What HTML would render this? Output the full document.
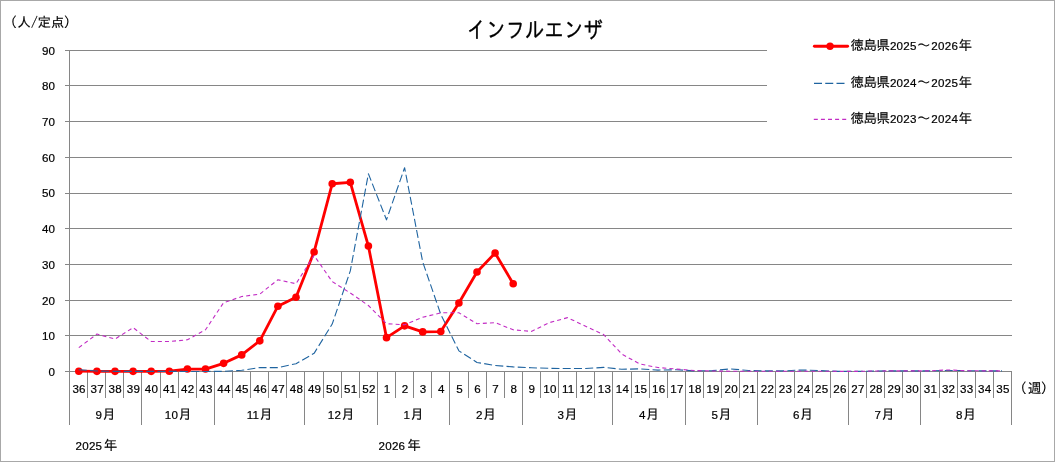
<!DOCTYPE html>
<html lang="ja"><head><meta charset="utf-8"><title>インフルエンザ</title>
<style>html,body{margin:0;padding:0;background:#fff}body{width:1055px;height:466px;overflow:hidden}svg{display:block}text{fill:#000}.n{font-family:"Liberation Sans","IPAGothic","Noto Sans CJK JP",sans-serif;font-size:11.6px;letter-spacing:.25px;stroke:#000;stroke-width:.2px}.j{font-family:"IPAGothic","Noto Sans CJK JP",sans-serif;font-size:13.5px;letter-spacing:0;stroke:#000;stroke-width:.15px}.t{font-family:"IPAGothic","Noto Sans CJK JP",sans-serif;font-size:23px;stroke:#000;stroke-width:.3px}</style></head><body>
<svg width="1055" height="466" viewBox="0 0 1055 466">
<rect x="0" y="0" width="1055" height="466" fill="#fff"/>
<rect x="0.5" y="0.5" width="1054" height="461" fill="#fff" stroke="#a8a8a8" stroke-width="1"/>
<g stroke="#868686" stroke-width="1" shape-rendering="crispEdges">
<line x1="65" y1="371.5" x2="1012" y2="371.5"/>
<line x1="65" y1="335.5" x2="1012" y2="335.5"/>
<line x1="65" y1="300.5" x2="1012" y2="300.5"/>
<line x1="65" y1="264.5" x2="1012" y2="264.5"/>
<line x1="65" y1="228.5" x2="1012" y2="228.5"/>
<line x1="65" y1="193.5" x2="1012" y2="193.5"/>
<line x1="65" y1="157.5" x2="1012" y2="157.5"/>
<line x1="65" y1="121.5" x2="767" y2="121.5"/>
<line x1="65" y1="85.5" x2="767" y2="85.5"/>
<line x1="65" y1="50.5" x2="767" y2="50.5"/>
<line x1="69.5" y1="50" x2="69.5" y2="425"/>
<line x1="87.5" y1="372" x2="87.5" y2="398"/>
<line x1="105.5" y1="372" x2="105.5" y2="398"/>
<line x1="123.5" y1="372" x2="123.5" y2="398"/>
<line x1="141.5" y1="372" x2="141.5" y2="425"/>
<line x1="160.5" y1="372" x2="160.5" y2="398"/>
<line x1="178.5" y1="372" x2="178.5" y2="398"/>
<line x1="196.5" y1="372" x2="196.5" y2="398"/>
<line x1="214.5" y1="372" x2="214.5" y2="425"/>
<line x1="232.5" y1="372" x2="232.5" y2="398"/>
<line x1="250.5" y1="372" x2="250.5" y2="398"/>
<line x1="268.5" y1="372" x2="268.5" y2="398"/>
<line x1="286.5" y1="372" x2="286.5" y2="398"/>
<line x1="304.5" y1="372" x2="304.5" y2="425"/>
<line x1="323.5" y1="372" x2="323.5" y2="398"/>
<line x1="341.5" y1="372" x2="341.5" y2="398"/>
<line x1="359.5" y1="372" x2="359.5" y2="398"/>
<line x1="377.5" y1="372" x2="377.5" y2="425"/>
<line x1="395.5" y1="372" x2="395.5" y2="398"/>
<line x1="413.5" y1="372" x2="413.5" y2="398"/>
<line x1="431.5" y1="372" x2="431.5" y2="398"/>
<line x1="449.5" y1="372" x2="449.5" y2="425"/>
<line x1="468.5" y1="372" x2="468.5" y2="398"/>
<line x1="486.5" y1="372" x2="486.5" y2="398"/>
<line x1="504.5" y1="372" x2="504.5" y2="398"/>
<line x1="522.5" y1="372" x2="522.5" y2="425"/>
<line x1="540.5" y1="372" x2="540.5" y2="398"/>
<line x1="558.5" y1="372" x2="558.5" y2="398"/>
<line x1="576.5" y1="372" x2="576.5" y2="398"/>
<line x1="594.5" y1="372" x2="594.5" y2="398"/>
<line x1="612.5" y1="372" x2="612.5" y2="425"/>
<line x1="631.5" y1="372" x2="631.5" y2="398"/>
<line x1="649.5" y1="372" x2="649.5" y2="398"/>
<line x1="667.5" y1="372" x2="667.5" y2="398"/>
<line x1="685.5" y1="372" x2="685.5" y2="425"/>
<line x1="703.5" y1="372" x2="703.5" y2="398"/>
<line x1="721.5" y1="372" x2="721.5" y2="398"/>
<line x1="739.5" y1="372" x2="739.5" y2="398"/>
<line x1="757.5" y1="372" x2="757.5" y2="425"/>
<line x1="775.5" y1="372" x2="775.5" y2="398"/>
<line x1="794.5" y1="372" x2="794.5" y2="398"/>
<line x1="812.5" y1="372" x2="812.5" y2="398"/>
<line x1="830.5" y1="372" x2="830.5" y2="398"/>
<line x1="848.5" y1="372" x2="848.5" y2="425"/>
<line x1="866.5" y1="372" x2="866.5" y2="398"/>
<line x1="884.5" y1="372" x2="884.5" y2="398"/>
<line x1="902.5" y1="372" x2="902.5" y2="398"/>
<line x1="920.5" y1="372" x2="920.5" y2="425"/>
<line x1="939.5" y1="372" x2="939.5" y2="398"/>
<line x1="957.5" y1="372" x2="957.5" y2="398"/>
<line x1="975.5" y1="372" x2="975.5" y2="398"/>
<line x1="993.5" y1="372" x2="993.5" y2="398"/>
<line x1="1011.5" y1="372" x2="1011.5" y2="425"/>
</g>
<g class="n" text-anchor="end">
<text x="55.3" y="375.9">0</text>
<text x="55.3" y="340.2">10</text>
<text x="55.3" y="304.5">20</text>
<text x="55.3" y="268.8">30</text>
<text x="55.3" y="233.1">40</text>
<text x="55.3" y="197.4">50</text>
<text x="55.3" y="161.7">60</text>
<text x="55.3" y="126.0">70</text>
<text x="55.3" y="90.3">80</text>
<text x="55.3" y="54.5">90</text>
</g>
<g class="n" text-anchor="middle">
<text x="79.1" y="393">36</text>
<text x="97.2" y="393">37</text>
<text x="115.3" y="393">38</text>
<text x="133.4" y="393">39</text>
<text x="151.5" y="393">40</text>
<text x="169.6" y="393">41</text>
<text x="187.7" y="393">42</text>
<text x="205.9" y="393">43</text>
<text x="224.0" y="393">44</text>
<text x="242.1" y="393">45</text>
<text x="260.2" y="393">46</text>
<text x="278.3" y="393">47</text>
<text x="296.4" y="393">48</text>
<text x="314.6" y="393">49</text>
<text x="332.7" y="393">50</text>
<text x="350.8" y="393">51</text>
<text x="368.9" y="393">52</text>
<text x="387.0" y="393">1</text>
<text x="405.1" y="393">2</text>
<text x="423.2" y="393">3</text>
<text x="441.4" y="393">4</text>
<text x="459.5" y="393">5</text>
<text x="477.6" y="393">6</text>
<text x="495.7" y="393">7</text>
<text x="513.8" y="393">8</text>
<text x="531.9" y="393">9</text>
<text x="550.0" y="393">10</text>
<text x="568.2" y="393">11</text>
<text x="586.3" y="393">12</text>
<text x="604.4" y="393">13</text>
<text x="622.5" y="393">14</text>
<text x="640.6" y="393">15</text>
<text x="658.7" y="393">16</text>
<text x="676.9" y="393">17</text>
<text x="695.0" y="393">18</text>
<text x="713.1" y="393">19</text>
<text x="731.2" y="393">20</text>
<text x="749.3" y="393">21</text>
<text x="767.4" y="393">22</text>
<text x="785.5" y="393">23</text>
<text x="803.7" y="393">24</text>
<text x="821.8" y="393">25</text>
<text x="839.9" y="393">26</text>
<text x="858.0" y="393">27</text>
<text x="876.1" y="393">28</text>
<text x="894.2" y="393">29</text>
<text x="912.3" y="393">30</text>
<text x="930.5" y="393">31</text>
<text x="948.6" y="393">32</text>
<text x="966.7" y="393">33</text>
<text x="984.8" y="393">34</text>
<text x="1002.9" y="393">35</text>
</g>
<g class="n" text-anchor="middle">
<text x="105.7" y="419"><tspan>9</tspan><tspan class="j">月</tspan></text>
<text x="178.2" y="419"><tspan>10</tspan><tspan class="j">月</tspan></text>
<text x="259.7" y="419"><tspan>11</tspan><tspan class="j">月</tspan></text>
<text x="341.2" y="419"><tspan>12</tspan><tspan class="j">月</tspan></text>
<text x="413.7" y="419"><tspan>1</tspan><tspan class="j">月</tspan></text>
<text x="486.1" y="419"><tspan>2</tspan><tspan class="j">月</tspan></text>
<text x="567.7" y="419"><tspan>3</tspan><tspan class="j">月</tspan></text>
<text x="649.2" y="419"><tspan>4</tspan><tspan class="j">月</tspan></text>
<text x="721.6" y="419"><tspan>5</tspan><tspan class="j">月</tspan></text>
<text x="803.2" y="419"><tspan>6</tspan><tspan class="j">月</tspan></text>
<text x="884.7" y="419"><tspan>7</tspan><tspan class="j">月</tspan></text>
<text x="966.2" y="419"><tspan>8</tspan><tspan class="j">月</tspan></text>
</g>
<text class="n" x="75.5" y="449.6">2025<tspan class="j" x="103.7">年</tspan></text>
<text class="n" x="378.5" y="449.6">2026<tspan class="j" x="407.2">年</tspan></text>
<text class="j" x="3.5 17.3 31 37.5 50.7 63.7" y="26.5">（人/定点）</text>
<text class="j" x="1013.3 1027.7 1040.7" y="392.7">（週）</text>
<text x="466.8" y="38" class="t" textLength="136" lengthAdjust="spacingAndGlyphs">インフルエンザ</text>
<polyline points="78.80,371.19 96.90,371.37 115.00,371.37 133.10,371.37 151.20,371.37 169.30,371.19 187.40,369.05 205.50,369.05 223.60,363.34 241.70,354.88 259.80,340.85 277.90,306.22 296.00,297.29 314.10,251.96 332.20,183.77 350.30,182.34 368.40,246.06 386.50,337.63 404.60,325.85 422.70,331.92 440.80,331.57 458.90,303.01 477.00,271.95 495.10,253.03 513.20,283.73" fill="none" stroke="#ff0000" stroke-width="2.8" stroke-linejoin="round" stroke-linecap="round"/>
<g fill="#ff0000">
<circle cx="78.80" cy="371.19" r="3.8"/>
<circle cx="96.90" cy="371.37" r="3.8"/>
<circle cx="115.00" cy="371.37" r="3.8"/>
<circle cx="133.10" cy="371.37" r="3.8"/>
<circle cx="151.20" cy="371.37" r="3.8"/>
<circle cx="169.30" cy="371.19" r="3.8"/>
<circle cx="187.40" cy="369.05" r="3.8"/>
<circle cx="205.50" cy="369.05" r="3.8"/>
<circle cx="223.60" cy="363.34" r="3.8"/>
<circle cx="241.70" cy="354.88" r="3.8"/>
<circle cx="259.80" cy="340.85" r="3.8"/>
<circle cx="277.90" cy="306.22" r="3.8"/>
<circle cx="296.00" cy="297.29" r="3.8"/>
<circle cx="314.10" cy="251.96" r="3.8"/>
<circle cx="332.20" cy="183.77" r="3.8"/>
<circle cx="350.30" cy="182.34" r="3.8"/>
<circle cx="368.40" cy="246.06" r="3.8"/>
<circle cx="386.50" cy="337.63" r="3.8"/>
<circle cx="404.60" cy="325.85" r="3.8"/>
<circle cx="422.70" cy="331.92" r="3.8"/>
<circle cx="440.80" cy="331.57" r="3.8"/>
<circle cx="458.90" cy="303.01" r="3.8"/>
<circle cx="477.00" cy="271.95" r="3.8"/>
<circle cx="495.10" cy="253.03" r="3.8"/>
<circle cx="513.20" cy="283.73" r="3.8"/>
</g>
<polyline points="78.80,369.76 96.90,371.01 115.00,371.37 133.10,371.37 151.20,371.37 169.30,371.37 187.40,371.44 205.50,371.44 223.60,371.37 241.70,370.30 259.80,367.62 277.90,367.62 296.00,363.70 314.10,353.34 332.20,324.07 350.30,270.88 368.40,173.77 386.50,219.83 404.60,167.70 422.70,261.95 440.80,314.43 458.90,350.84 477.00,362.45 495.10,365.48 513.20,366.91 531.30,367.77 549.40,368.34 567.50,368.52 585.60,368.52 603.70,367.37 621.80,369.27 639.90,368.87 658.00,370.12 676.10,369.76 694.20,370.84 712.30,370.66 730.40,368.87 748.50,370.48 766.60,370.84 784.70,370.84 802.80,369.94 820.90,370.66 839.00,371.37 857.10,371.37 875.20,371.01 893.30,370.84 911.40,370.84 929.50,370.84 947.60,370.48 965.70,370.66 983.80,370.84 1001.90,370.84" fill="none" stroke="#1f64a0" stroke-width="1.1" stroke-dasharray="8 3.25" stroke-linejoin="round"/>
<polyline points="78.80,347.63 96.90,334.06 115.00,339.06 133.10,327.64 151.20,341.56 169.30,341.56 187.40,339.78 205.50,329.78 223.60,302.65 241.70,296.58 259.80,294.08 277.90,279.80 296.00,283.73 314.10,255.53 332.20,281.59 350.30,293.01 368.40,305.50 386.50,323.71 404.60,324.78 422.70,317.29 440.80,312.82 458.90,312.82 477.00,323.71 495.10,322.64 513.20,329.78 531.30,331.39 549.40,322.64 567.50,317.64 585.60,326.21 603.70,334.60 621.80,354.06 639.90,364.05 658.00,367.52 676.10,369.05 694.20,370.48 712.30,371.01 730.40,371.19 748.50,371.19 766.60,371.19 784.70,371.19 802.80,371.19 820.90,371.19 839.00,371.37 857.10,371.37 875.20,371.01 893.30,370.84 911.40,370.84 929.50,370.84 947.60,369.94 965.70,370.66 983.80,370.84 1001.90,370.84" fill="none" stroke="#c22cc4" stroke-width="1.1" stroke-dasharray="4 3.1" stroke-linejoin="round"/>
<line x1="814.4" y1="46.25" x2="847.6" y2="46.25" stroke="#ff0000" stroke-width="2.9" stroke-linecap="round"/>
<circle cx="830.05" cy="46.25" r="3.7" fill="#ff0000"/>
<line x1="814" y1="83.4" x2="845" y2="83.4" stroke="#1f64a0" stroke-width="1.25" stroke-dasharray="8 3.25"/>
<line x1="813.8" y1="119.4" x2="847" y2="119.4" stroke="#c22cc4" stroke-width="1.25" stroke-dasharray="4 3.1"/>
<text class="n" y="49.8"><tspan class="j" x="850.5" style="letter-spacing:-0.5px">徳島県</tspan><tspan x="889.9">2025</tspan><tspan class="j" x="917.1">～</tspan><tspan x="931.3">2026</tspan><tspan class="j" x="958.6">年</tspan></text>
<text class="n" y="86.6"><tspan class="j" x="850.5" style="letter-spacing:-0.5px">徳島県</tspan><tspan x="889.9">2024</tspan><tspan class="j" x="917.1">～</tspan><tspan x="931.3">2025</tspan><tspan class="j" x="958.6">年</tspan></text>
<text class="n" y="122.6"><tspan class="j" x="850.5" style="letter-spacing:-0.5px">徳島県</tspan><tspan x="889.9">2023</tspan><tspan class="j" x="917.1">～</tspan><tspan x="931.3">2024</tspan><tspan class="j" x="958.6">年</tspan></text>
</svg></body></html>
